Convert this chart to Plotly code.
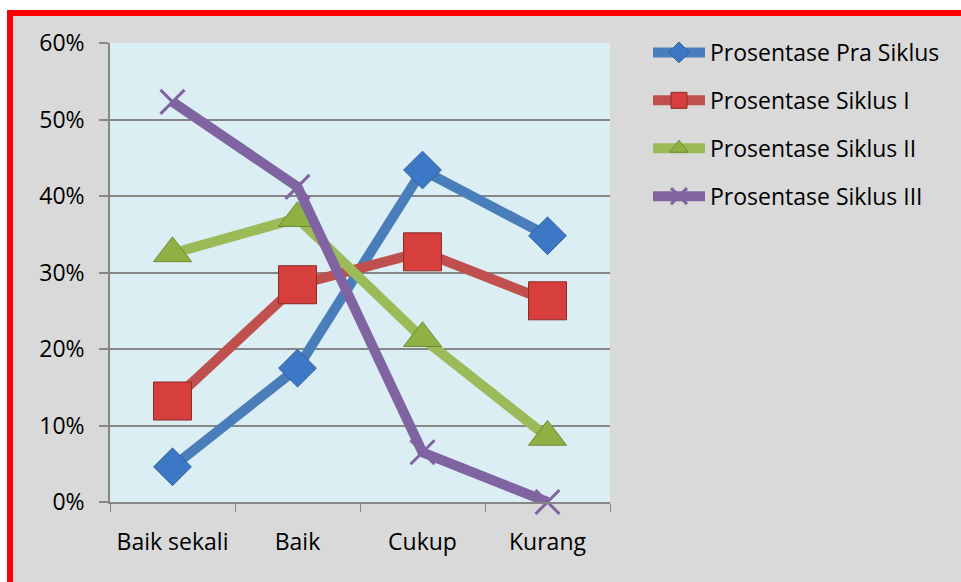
import plotly.graph_objects as go

categories = ["Baik sekali", "Baik", "Cukup", "Kurang"]
pra_siklus = [4.6, 17.5, 43.4, 34.8]
siklus_1 = [13.2, 28.4, 32.7, 26.3]
siklus_2 = [32.5, 37.1, 21.4, 8.5]
siklus_3 = [52.3, 41.2, 6.5, 0.0]
series_names = ["Prosentase Pra Siklus", "Prosentase Siklus I", "Prosentase Siklus II", "Prosentase Siklus III"]
y_ticks = [0, 10, 20, 30, 40, 50, 60]
y_tick_labels = ["0%", "10%", "20%", "30%", "40%", "50%", "60%"]

FONT = "Open Sans"
W, H = 961, 582
L, R, T, B = 110, 610, 43, 502

styles = [
    dict(line="#4a7ebb", mk="#3d78c6", mline="#2f5f99", sym="diamond", size=29, mlw=1),
    dict(line="#c0504d", mk="#d63f3c", mline="#8b2a28", sym="square", size=38, mlw=1),
    dict(line="#9bbb59", mk="#8fb143", mline="#6f8a35", sym="triangle-up", size=33, mlw=1),
    dict(line="#8064a2", mk="#8064a2", mline="#8064a2", sym="x-thin", size=24, mlw=3),
]
data = [pra_siklus, siklus_1, siklus_2, siklus_3]

fig = go.Figure()
for i, (name, vals, st) in enumerate(zip(series_names, data, styles)):
    fig.add_trace(go.Scatter(
        x=categories, y=vals, name=name, mode="lines+markers",
        legendgroup=f"g{i}",
        line=dict(color=st["line"], width=10),
        marker=dict(symbol=st["sym"], size=st["size"], color=st["mk"],
                    line=dict(color=st["mline"], width=st["mlw"])),
        cliponaxis=False,
    ))

def px(x):
    return (x - L) / (R - L)

def py(y):
    return (B - y) / (B - T)

shapes = [
    dict(type="rect", xref="paper", yref="paper", x0=px(0), x1=px(W), y0=py(10), y1=py(0),
         fillcolor="white", line_width=0, layer="above"),
    dict(type="rect", xref="paper", yref="paper", x0=px(0), x1=px(7), y0=py(H), y1=py(0),
         fillcolor="white", line_width=0, layer="above"),
    dict(type="rect", xref="paper", yref="paper", x0=px(7), x1=px(W), y0=py(16), y1=py(10),
         fillcolor="#ff0000", line_width=0, layer="above"),
    dict(type="rect", xref="paper", yref="paper", x0=px(7), x1=px(13), y0=py(H), y1=py(10),
         fillcolor="#ff0000", line_width=0, layer="above"),
]

fig.update_layout(
    width=W, height=H,
    margin=dict(l=L, r=W - R, t=T, b=H - B),
    paper_bgcolor="#d9d9d9",
    plot_bgcolor="#dbeef3",
    font=dict(family=FONT, size=23, color="#000000"),
    shapes=shapes,
    showlegend=True,
    legend=dict(
        x=px(648), y=py(31), xanchor="left", yanchor="top",
        font=dict(family=FONT, size=23, color="#000000"),
        bgcolor="rgba(0,0,0,0)", tracegroupgap=15, itemwidth=52,
        itemsizing="trace",
    ),
    xaxis=dict(
        type="category", range=[-0.5, 3.5], tickson="boundaries",
        ticks="outside", ticklen=8, tickcolor="#868686", tickwidth=1,
        showline=True, linecolor="#868686", linewidth=1.5,
        showgrid=False, zeroline=False, ticklabelstandoff=19,
        tickfont=dict(family=FONT, size=23),
    ),
    yaxis=dict(
        range=[0, 60], tickvals=y_ticks, ticktext=y_tick_labels,
        ticks="outside", ticklen=9, tickcolor="#868686", tickwidth=1.5,
        showline=True, linecolor="#868686", linewidth=1.5,
        showgrid=True, gridcolor="#868686", gridwidth=1.5, zeroline=False,
        ticklabelstandoff=10, tickfont=dict(family=FONT, size=23),
    ),
)

fig.write_html("out.html")
